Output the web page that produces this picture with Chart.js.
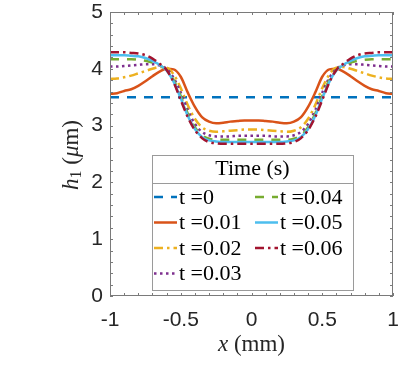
<!DOCTYPE html>
<html><head><meta charset="utf-8">
<script src="https://cdn.jsdelivr.net/npm/chart.js@4"></script>
<style>html,body{margin:0;padding:0;background:#fff}</style>
</head><body>
<canvas id="c" width="407" height="370"></canvas>
<script>
// x positions (mm) and film height h1 (um) per time step
const xs = [-1,-0.95,-0.9,-0.85,-0.8,-0.75,-0.7,-0.65,-0.6,-0.55,-0.5,-0.45,-0.4,-0.35,-0.3,-0.25,-0.2,-0.15,-0.1,-0.05,0,
  0.05,0.1,0.15,0.2,0.25,0.3,0.35,0.4,0.45,0.5,0.55,0.6,0.65,0.7,0.75,0.8,0.85,0.9,0.95,1];
const h_t0 = [3.5,3.5,3.5,3.5,3.5,3.5,3.5,3.5,3.5,3.5,3.5,3.5,3.5,3.5,3.5,3.5,3.5,3.5,3.5,3.5,3.5,
  3.5,3.5,3.5,3.5,3.5,3.5,3.5,3.5,3.5,3.5,3.5,3.5,3.5,3.5,3.5,3.5,3.5,3.5,3.5,3.5];
const h_t1 = [3.56,3.57,3.61,3.64,3.70,3.78,3.87,3.95,4.00,3.99,3.86,3.58,3.33,3.15,3.07,3.04,3.05,3.07,3.08,3.09,3.09,
  3.09,3.08,3.07,3.05,3.04,3.07,3.15,3.33,3.58,3.86,3.99,4.00,3.95,3.87,3.78,3.70,3.64,3.61,3.57,3.56];
const h_t2 = [3.82,3.83,3.85,3.88,3.92,3.96,4.00,4.03,4.02,3.90,3.66,3.36,3.12,2.97,2.91,2.89,2.90,2.91,2.92,2.93,2.93,
  2.93,2.92,2.91,2.90,2.89,2.91,2.97,3.12,3.36,3.66,3.90,4.02,4.03,4.00,3.96,3.92,3.88,3.85,3.83,3.82];
const h_t3 = [4.04,4.04,4.05,4.06,4.07,4.08,4.08,4.06,4.00,3.84,3.58,3.27,3.03,2.89,2.83,2.81,2.81,2.81,2.82,2.82,2.82,
  2.82,2.82,2.81,2.81,2.81,2.83,2.89,3.03,3.27,3.58,3.84,4.00,4.06,4.08,4.08,4.07,4.06,4.05,4.04,4.04];
const h_t4 = [4.17,4.17,4.17,4.17,4.16,4.14,4.11,4.06,3.98,3.80,3.52,3.21,2.97,2.83,2.77,2.75,2.75,2.75,2.75,2.75,2.75,
  2.75,2.75,2.75,2.75,2.75,2.77,2.83,2.97,3.21,3.52,3.80,3.98,4.06,4.11,4.14,4.16,4.17,4.17,4.17,4.17];
const h_t5 = [4.24,4.24,4.24,4.23,4.22,4.19,4.14,4.07,3.97,3.77,3.48,3.17,2.94,2.80,2.74,2.72,2.71,2.71,2.71,2.71,2.71,
  2.71,2.71,2.71,2.71,2.72,2.74,2.80,2.94,3.17,3.48,3.77,3.97,4.07,4.14,4.19,4.22,4.23,4.24,4.24,4.24];
const h_t6 = [4.29,4.29,4.29,4.28,4.27,4.24,4.18,4.09,3.98,3.76,3.45,3.15,2.92,2.78,2.71,2.69,2.68,2.68,2.68,2.68,2.68,
  2.68,2.68,2.68,2.68,2.69,2.71,2.78,2.92,3.15,3.45,3.76,3.98,4.09,4.18,4.24,4.27,4.28,4.29,4.29,4.29];
const series = [h_t0,h_t1,h_t2,h_t3,h_t4,h_t5,h_t6];
const times = ['0','0.01','0.02','0.03','0.04','0.05','0.06'];
const colors = ['#0072BD','#D95319','#EDB120','#7E2F8E','#77AC30','#4DBEEE','#A2142F'];
const dashes = [[9,8],[],[9,4,2.5,4],[2.5,3.5],[9,8],[],[9,4,2.5,4]];
const legendTitle = 'Time (s)';

const SERIF = '"Liberation Serif", "DejaVu Serif", serif';
const SANS = '"Liberation Sans", Arial, sans-serif';

const datasets = series.map((ys, i) => ({
  label: 't =' + times[i],
  data: xs.map((x, k) => ({x: x, y: ys[k]})),
  borderColor: colors[i],
  borderWidth: 2.5,
  borderDash: dashes[i],
  pointRadius: 0,
  cubicInterpolationMode: 'monotone',
  fill: false,
  order: series.length - i
}));

function drawText(ctx, parts, x, y) {
  // parts: [text, font, dy]
  let total = 0;
  parts.forEach(p => { ctx.font = p[1]; total += ctx.measureText(p[0]).width; });
  let cx = x - total / 2;
  parts.forEach(p => {
    ctx.font = p[1];
    ctx.fillText(p[0], cx, y + (p[2] || 0));
    cx += ctx.measureText(p[0]).width;
  });
}

const matlabAxes = {
  id: 'matlabAxes',
  afterDraw(chart) {
    const ctx = chart.ctx;
    const a = chart.chartArea;
    const xs_ = chart.scales.x, ys_ = chart.scales.y;
    ctx.save();
    ctx.strokeStyle = '#7a7a7a';
    ctx.lineWidth = 1;
    ctx.strokeRect(Math.round(a.left) + 0.5, Math.round(a.top) + 0.5,
      Math.round(a.right - a.left) - 1, Math.round(a.bottom - a.top) - 1);
    ctx.beginPath();
    for (let k = -10; k <= 10; k++) {
      const px = Math.round(xs_.getPixelForValue(k / 10)) + 0.5;
      ctx.moveTo(px, a.bottom); ctx.lineTo(px, a.bottom - 3);
      ctx.moveTo(px, a.top); ctx.lineTo(px, a.top + 3);
    }
    for (let k = 0; k <= 25; k++) {
      const py = Math.round(ys_.getPixelForValue(k / 5)) + 0.5;
      ctx.moveTo(a.left, py); ctx.lineTo(a.left + 3, py);
      ctx.moveTo(a.right, py); ctx.lineTo(a.right - 3, py);
    }
    ctx.stroke();

    // axis titles
    ctx.fillStyle = '#262626';
    ctx.textBaseline = 'middle';
    drawText(ctx, [['x', 'italic 23px ' + SERIF], [' (mm)', '23px ' + SERIF]], (a.left + a.right) / 2, 345);
    ctx.save();
    ctx.translate(72, 155);
    ctx.rotate(-Math.PI / 2);
    drawText(ctx, [['h', 'italic 23px ' + SERIF], ['1', '16px ' + SERIF, 5],
      [' (', '23px ' + SERIF], ['\u03bc', 'italic 23px ' + SERIF], ['m)', '23px ' + SERIF]], 0, 0);
    ctx.restore();

    // legend box
    const L = 152, T = 155, R = 353, B = 290;
    ctx.fillStyle = '#fff';
    ctx.fillRect(L, T, R - L, B - T);
    ctx.strokeStyle = '#9a9a9a';
    ctx.strokeRect(L + 0.5, T + 0.5, R - L, B - T);
    ctx.beginPath();
    ctx.moveTo(L, 183.5); ctx.lineTo(R, 183.5);
    ctx.stroke();
    ctx.fillStyle = '#000';
    ctx.textAlign = 'left';
    drawText(ctx, [[legendTitle, '22px ' + SERIF]], (L + R) / 2, 169);
    chart.data.datasets.forEach((ds, i) => {
      const col = i < 4 ? 0 : 1;
      const row = i < 4 ? i : i - 4;
      const x0 = col ? 255 : 154;
      const y = 197 + row * 25.5;
      ctx.save();
      ctx.strokeStyle = ds.borderColor;
      ctx.lineWidth = 2.5;
      ctx.setLineDash(ds.borderDash);
      ctx.beginPath();
      ctx.moveTo(x0, y); ctx.lineTo(x0 + 23, y);
      ctx.stroke();
      ctx.restore();
      ctx.fillStyle = '#000';
      ctx.font = '22px ' + SERIF;
      ctx.fillText(ds.label, x0 + 25, y + 1);
    });
    ctx.restore();
  }
};

new Chart(document.getElementById('c'), {
  type: 'line',
  data: { datasets: datasets },
  options: {
    responsive: false,
    animation: false,
    devicePixelRatio: 1,
    layout: { padding: { top: 12, right: 14, left: 0, bottom: 0 } },
    plugins: { legend: { display: false }, tooltip: { enabled: false } },
    scales: {
      x: {
        type: 'linear', min: -1, max: 1,
        afterFit(s) { s.height = 74; s.paddingRight = 0; s.paddingLeft = 0; },
        grid: { display: false, drawTicks: false },
        border: { display: false },
        ticks: { stepSize: 0.5, autoSkip: false, maxRotation: 0, padding: 12,
          color: '#262626', font: { family: SANS, size: 21 },
          callback: v => String(v) }
      },
      y: {
        min: 0, max: 5,
        afterFit(s) { s.width = 110; s.paddingTop = 0; s.paddingBottom = 0; },
        grid: { display: false, drawTicks: false },
        border: { display: false },
        ticks: { stepSize: 1, autoSkip: false, padding: 7,
          color: '#262626', font: { family: SANS, size: 21 } }
      }
    }
  },
  plugins: [matlabAxes]
});
</script>
</body></html>
